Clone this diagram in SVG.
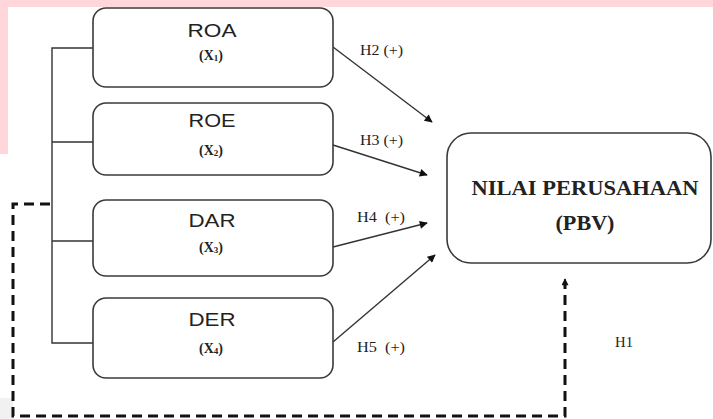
<svg xmlns="http://www.w3.org/2000/svg" width="713" height="419" viewBox="0 0 713 419">
<defs>
<style>
.box{fill:#fff;stroke:#3a3a3a;stroke-width:1.6}
.t1{font-family:"Liberation Sans",Arial,sans-serif;font-size:18px;fill:#222;text-anchor:middle}
.t2{font-family:"Liberation Serif","Times New Roman",serif;font-size:14px;font-weight:bold;fill:#222;text-anchor:middle}
.lbl{font-family:"Liberation Serif","Times New Roman",serif;font-size:14px;fill:#222}
.big{font-family:"Liberation Serif","Times New Roman",serif;font-size:20px;font-weight:bold;fill:#222;text-anchor:middle}
.ln{stroke:#333;stroke-width:1.4;fill:none}
.dash{stroke:#111;stroke-width:3;fill:none;stroke-dasharray:10 6}
</style>
<marker id="ah" viewBox="0 0 10 10" refX="9" refY="5" markerWidth="11" markerHeight="8" markerUnits="userSpaceOnUse" orient="auto"><path d="M0,0 L10,5 L0,10 z" fill="#111"/></marker>
<marker id="ah2" viewBox="0 0 10 10" refX="9" refY="5" markerWidth="9" markerHeight="7" markerUnits="userSpaceOnUse" orient="auto"><path d="M0,0 L10,5 L0,10 z" fill="#111"/></marker>
</defs>
<rect x="0" y="0" width="713" height="419" fill="#fff"/>
<rect x="0" y="0" width="713" height="7" fill="#ffd6d9"/>
<rect x="0" y="0" width="8" height="154" fill="#ffd6d9"/>
<rect x="0" y="398" width="13" height="21" fill="#f1f1f1"/>
<g id="connectors">
<path class="ln" d="M93,48 H52 V343 H93 M52,142 H93 M52,241 H93"/>
<line class="ln" x1="333" y1="47" x2="432" y2="122" marker-end="url(#ah)"/>
<line class="ln" x1="333" y1="145" x2="427" y2="175" marker-end="url(#ah)"/>
<line class="ln" x1="333" y1="247" x2="427" y2="223" marker-end="url(#ah)"/>
<line class="ln" x1="333" y1="342" x2="435" y2="255" marker-end="url(#ah)"/>
<path class="dash" d="M50,204 H13 V416 H565 V284"/>
<line x1="565" y1="286" x2="565" y2="279" stroke="#111" stroke-width="1.5" marker-end="url(#ah2)"/>
<text class="lbl" x="360" y="55" textLength="43" lengthAdjust="spacingAndGlyphs">H2 (+)</text>
<text class="lbl" x="360" y="145" textLength="43" lengthAdjust="spacingAndGlyphs">H3 (+)</text>
<text class="lbl" x="357" y="222" xml:space="preserve" textLength="48" lengthAdjust="spacingAndGlyphs">H4  (+)</text>
<text class="lbl" x="357" y="352" xml:space="preserve" textLength="48" lengthAdjust="spacingAndGlyphs">H5  (+)</text>
<text class="lbl" x="615" y="347" textLength="18" lengthAdjust="spacingAndGlyphs">H1</text>
</g>
<g id="roa">
<rect class="box" x="93" y="8" width="240" height="79" rx="13"/>
<text class="t1" x="212" y="37" textLength="49" lengthAdjust="spacingAndGlyphs">ROA</text>
<text class="t2" x="211" y="60">(X<tspan font-size="9" dy="1">1</tspan><tspan dy="-1">)</tspan></text>
</g>
<g id="roe">
<rect class="box" x="93" y="103" width="240" height="72" rx="13"/>
<text class="t1" x="212" y="127" textLength="47" lengthAdjust="spacingAndGlyphs">ROE</text>
<text class="t2" x="211" y="155">(X<tspan font-size="9" dy="1">2</tspan><tspan dy="-1">)</tspan></text>
</g>
<g id="dar">
<rect class="box" x="93" y="200" width="240" height="76" rx="13"/>
<text class="t1" x="212" y="227" textLength="47" lengthAdjust="spacingAndGlyphs">DAR</text>
<text class="t2" x="211" y="252">(X<tspan font-size="9" dy="1">3</tspan><tspan dy="-1">)</tspan></text>
</g>
<g id="der">
<rect class="box" x="93" y="298" width="240" height="80" rx="13"/>
<text class="t1" x="212" y="326" textLength="47" lengthAdjust="spacingAndGlyphs">DER</text>
<text class="t2" x="211" y="353">(X<tspan font-size="9" dy="1">4</tspan><tspan dy="-1">)</tspan></text>
</g>
<g id="nilai">
<rect class="box" x="447" y="133" width="264" height="130" rx="24"/>
<text class="big" x="585" y="195" textLength="227" lengthAdjust="spacingAndGlyphs">NILAI PERUSAHAAN</text>
<text class="big" x="585" y="230" textLength="59" lengthAdjust="spacingAndGlyphs">(PBV)</text>
</g>
</svg>
